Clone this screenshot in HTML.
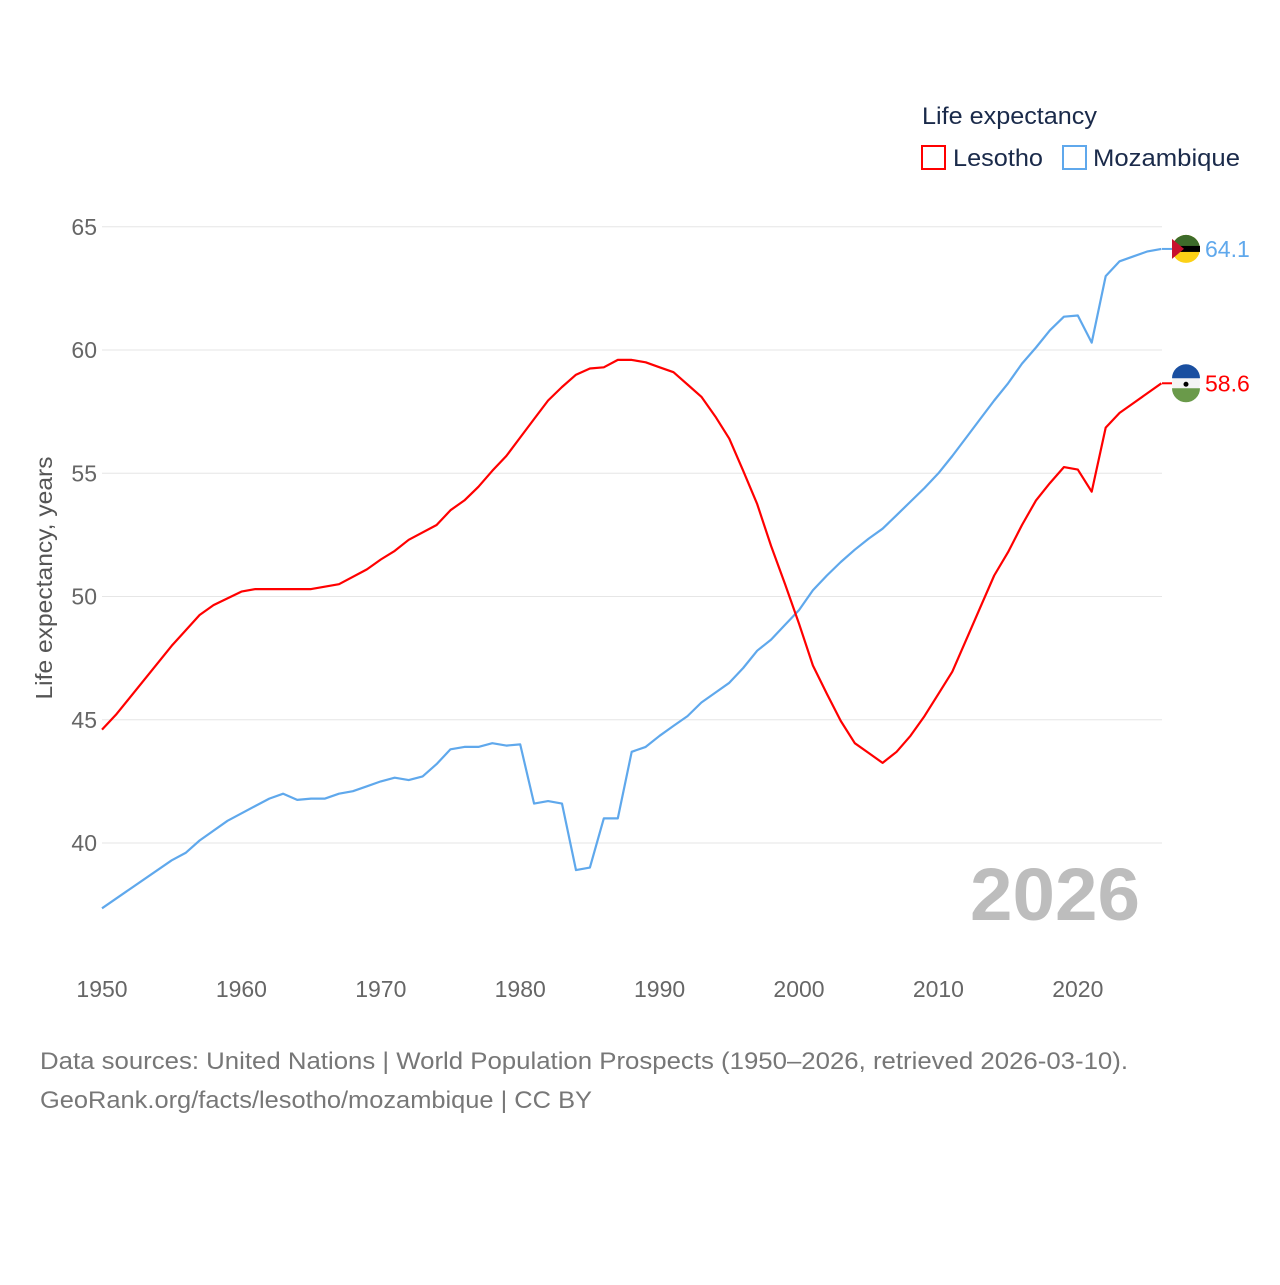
<!DOCTYPE html>
<html><head><meta charset="utf-8">
<style>
body{margin:0;background:#fff;font-family:"Liberation Sans",sans-serif;}
svg text{font-family:"Liberation Sans",sans-serif;}
</style></head>
<body>
<svg width="1280" height="1280" viewBox="0 0 1280 1280">
<g id="grid"></g>
<g id="yt"></g>
<g id="xt"></g>
<text x="52" y="578" transform="rotate(-90 52 578)" text-anchor="middle" font-size="23" textLength="243" lengthAdjust="spacingAndGlyphs" fill="#555">Life expectancy, years</text>
<text x="1140" y="920" text-anchor="end" font-size="74" font-weight="bold" fill="#bdbdbd" textLength="170" lengthAdjust="spacingAndGlyphs">2026</text>
<g id="lines"></g>
<g>
<text x="922" y="124" font-size="24" fill="#1a2a4a" textLength="175" lengthAdjust="spacingAndGlyphs">Life expectancy</text>
<g><rect x="922" y="146" width="23" height="23" fill="none" stroke="#ff0000" stroke-width="2"/><text x="953" y="166" font-size="24" fill="#1a2a4a" textLength="90" lengthAdjust="spacingAndGlyphs">Lesotho</text></g>
<g><rect x="1063" y="146" width="23" height="23" fill="none" stroke="#5fa8ec" stroke-width="2"/><text x="1093" y="166" font-size="24" fill="#1a2a4a" textLength="147" lengthAdjust="spacingAndGlyphs">Mozambique</text></g>
</g>
<g>
<text x="40" y="1069" font-size="24" fill="#777" textLength="1088" lengthAdjust="spacingAndGlyphs">Data sources: United Nations | World Population Prospects (1950–2026, retrieved 2026-03-10).</text>
<text x="40" y="1108" font-size="24" fill="#777" textLength="552" lengthAdjust="spacingAndGlyphs">GeoRank.org/facts/lesotho/mozambique | CC BY</text>
</g>
<g id="ends"></g>
</svg>
<script>
const yTicks=[40,45,50,55,60,65];
const xTicks=[1950,1960,1970,1980,1990,2000,2010,2020];
const lesYears=[1950,1951,1955,1957,1958,1960,1961,1965,1967,1969,1970,1971,1972,1974,1975,1976,1977,1978,1979,1980,1981,1982,1983,1984,1985,1986,1987,1988,1989,1990,1991,1992,1993,1994,1995,1996,1997,1998,1999,2000,2001,2002,2003,2004,2005,2006,2007,2008,2009,2010,2011,2012,2013,2014,2015,2016,2017,2018,2019,2020,2021,2022,2023,2024,2025,2026];
const lesValues=[44.6,45.2,48.0,49.25,49.65,50.2,50.3,50.3,50.5,51.1,51.5,51.85,52.3,52.9,53.5,53.9,54.45,55.1,55.7,56.45,57.2,57.95,58.5,59.0,59.25,59.3,59.6,59.6,59.5,59.3,59.1,58.6,58.1,57.3,56.4,55.1,53.75,52.05,50.5,48.9,47.2,46.05,44.95,44.05,43.65,43.25,43.7,44.35,45.15,46.05,46.95,48.25,49.55,50.85,51.8,52.9,53.9,54.6,55.25,55.15,54.25,56.85,57.45,57.85,58.25,58.65];
const mozYears=[1950,1955,1956,1957,1959,1961,1962,1963,1964,1965,1966,1967,1968,1969,1970,1971,1972,1973,1974,1975,1976,1977,1978,1979,1980,1981,1982,1983,1984,1985,1986,1987,1988,1989,1990,1991,1992,1993,1994,1995,1996,1997,1998,1999,2000,2001,2002,2003,2004,2005,2006,2007,2008,2009,2010,2011,2012,2013,2014,2015,2016,2017,2018,2019,2020,2021,2022,2023,2024,2025,2026];
const mozValues=[37.35,39.3,39.6,40.1,40.9,41.5,41.8,42.0,41.75,41.8,41.8,42.0,42.1,42.3,42.5,42.65,42.55,42.7,43.2,43.8,43.9,43.9,44.05,43.95,44.0,41.6,41.7,41.6,38.9,39.0,41.0,41.0,43.7,43.9,44.35,44.75,45.15,45.7,46.1,46.5,47.1,47.8,48.25,48.85,49.45,50.25,50.85,51.4,51.9,52.35,52.75,53.3,53.85,54.4,55.0,55.7,56.45,57.2,57.95,58.65,59.45,60.1,60.8,61.35,61.4,60.3,63.0,63.6,63.8,64.0,64.1];
const NS="http://www.w3.org/2000/svg";
const X=y=>102+(y-1950)*13.94;
const Y=v=>843-(v-40)*24.65;
function mk(t,a,p){const e=document.createElementNS(NS,t);for(const k in a)e.setAttribute(k,a[k]);p.appendChild(e);return e;}
const grid=document.getElementById('grid'),yt=document.getElementById('yt'),xt=document.getElementById('xt');
yTicks.forEach(v=>{
 const l=mk('line',{x1:102,x2:1162,y1:Y(v),y2:Y(v),stroke:'#e6e6e6','stroke-width':1},grid);
 
 
 const t=mk('text',{x:97,y:Y(v)+8,'text-anchor':'end','font-size':23,fill:'#666'},yt);t.textContent=v;
 
 
});
xTicks.forEach(v=>{
 const t=mk('text',{x:X(v),y:997,'text-anchor':'middle','font-size':23,fill:'#666'},xt);t.textContent=v;
 
 
});
const lines=document.getElementById('lines');
function draw(ys,vs,c,n){
 const d=ys.map((y,i)=>(i?'L':'M')+X(y).toFixed(1)+' '+Y(vs[i]).toFixed(1)).join(' ');
 const p=mk('path',{d:d,fill:'none',stroke:c,'stroke-width':2.2,'stroke-linejoin':'round'},lines);
 
 
}
draw(mozYears,mozValues,'#5fa8ec','line-mozambique');
draw(lesYears,lesValues,'#ff0000','line-lesotho');
const ends=document.getElementById('ends');
function end(v,c,n,flag){
 const y=Y(v);
 mk('line',{x1:1162,x2:1172,y1:y,y2:y,stroke:c,'stroke-width':2},ends);
 const g=mk('g',{},ends);
 
 
 flag(g,1186,y);
 const t=mk('text',{x:1205,y:y+8,'font-size':23,fill:c},ends);t.textContent=v.toFixed(1);
 
 
}
end(mozValues[mozValues.length-1],'#5fa8ec','mozambique',(g,x,y)=>{
 mk('circle',{cx:x,cy:y,r:14,fill:'#fcd116'},g);
 mk('path',{d:`M${x-14} ${y} A14 14 0 0 1 ${x+14} ${y} Z`,fill:'#3d6b2a'},g);
 mk('rect',{x:x-14,y:y-3,width:28,height:6,fill:'#000'},g);
 mk('path',{d:`M${x-14} ${y-10} L${x-2} ${y} L${x-14} ${y+10}Z`,fill:'#c8102e'},g);
});
end(lesValues[lesValues.length-1],'#ff0000','lesotho',(g,x,y)=>{
 mk('circle',{cx:x,cy:y,r:14,fill:'#f4f4f4'},g);
 mk('path',{d:`M${x-14} ${y-5} A14 14 0 0 1 ${x+14} ${y-5} Z`,fill:'#1a4fa0'},g);
 mk('path',{d:`M${x-14} ${y+5} A14 14 0 0 0 ${x+14} ${y+5} Z`,fill:'#6a9a4a'},g);
 mk('circle',{cx:x,cy:y+1,r:2.5,fill:'#000'},g);
});
</script>
</body></html>
